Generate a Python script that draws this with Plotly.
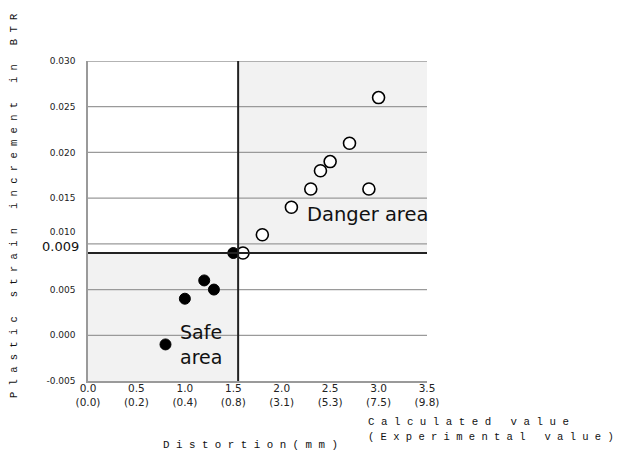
import plotly.graph_objects as go

# data
safe_x = [0.8, 1.0, 1.2, 1.3, 1.5]
safe_y = [-0.001, 0.004, 0.006, 0.005, 0.009]
danger_x = [1.6, 1.8, 2.1, 2.3, 2.4, 2.5, 2.7, 2.9, 3.0]
danger_y = [0.009, 0.011, 0.014, 0.016, 0.018, 0.019, 0.021, 0.016, 0.026]
x_ticks = [0.0, 0.5, 1.0, 1.5, 2.0, 2.5, 3.0, 3.5]
x_tick_exp = ["0.0", "0.2", "0.4", "0.8", "3.1", "5.3", "7.5", "9.8"]
y_ticks = [-0.005, 0.000, 0.005, 0.010, 0.015, 0.020, 0.025, 0.030]
threshold_x = 1.55
threshold_y = 0.009

x_ticktext = [f"{v:.1f}<br>({e})" for v, e in zip(x_ticks, x_tick_exp)]
# the 0.010 label sits a little higher so it clears the 0.009 label
y_ticktext = [f"{v:.3f}" + ("<br> <br> " if abs(v - 0.010) < 1e-9 else "") for v in y_ticks]


def spaced(*words, gap=3):
    return (" " * gap).join(" ".join(w) for w in words)


fig = go.Figure()

# shaded areas
fig.add_shape(type="rect", x0=threshold_x, x1=3.5, y0=threshold_y, y1=0.030,
              fillcolor="#f2f2f2", line_width=0, layer="below")
fig.add_shape(type="rect", x0=0, x1=threshold_x, y0=-0.005, y1=threshold_y,
              fillcolor="#f2f2f2", line_width=0, layer="below")

# gridlines
for yv in y_ticks[1:]:
    fig.add_shape(type="line", x0=0, x1=3.5, y0=yv, y1=yv,
                  line=dict(color="#9a9a9a", width=1.3), layer="below")

# threshold lines
fig.add_shape(type="line", x0=0, x1=3.5, y0=threshold_y, y1=threshold_y,
              line=dict(color="#222222", width=2))
fig.add_shape(type="line", x0=threshold_x, x1=threshold_x, y0=-0.005, y1=0.030,
              line=dict(color="#222222", width=2))

fig.add_trace(go.Scatter(x=safe_x, y=safe_y, mode="markers",
                         marker=dict(size=11, color="black", line=dict(color="black", width=1)),
                         showlegend=False))
fig.add_trace(go.Scatter(x=danger_x, y=danger_y, mode="markers",
                         marker=dict(size=12, color="white", line=dict(color="black", width=1.6)),
                         showlegend=False))

fig.update_xaxes(range=[0, 3.5], tickvals=x_ticks, ticktext=x_ticktext,
                 showgrid=False, zeroline=False, showline=True, linecolor="#9a9a9a",
                 linewidth=1.5, ticks="", ticklabelstandoff=-3,
                 tickfont=dict(family="DejaVu Sans", size=10.5, color="#222"))
fig.update_yaxes(range=[-0.005, 0.030], tickvals=y_ticks, ticktext=y_ticktext,
                 showgrid=False, zeroline=False, showline=True, linecolor="#9a9a9a",
                 linewidth=1.5, ticks="", ticklabelstandoff=9,
                 tickfont=dict(family="DejaVu Sans", size=9, color="#222"))

fig.add_annotation(x=0, y=threshold_y, xref="x", yref="y", text="0.009", showarrow=False,
                   xanchor="right", xshift=-7, yshift=7,
                   font=dict(family="DejaVu Sans", size=13, color="#111"))
fig.add_annotation(x=2.24, y=0.0132, xref="x", yref="y", text="Danger area", showarrow=False,
                   xanchor="left", font=dict(family="DejaVu Sans", size=19.5, color="#111"))
fig.add_annotation(x=0.93, y=-0.001, xref="x", yref="y", text="Safe<br>area", showarrow=False,
                   xanchor="left", align="left", font=dict(family="DejaVu Sans", size=19, color="#111"))

title_font = dict(family="Liberation Mono", size=10.8, color="#111")
fig.add_annotation(xref="paper", yref="paper", x=-0.218, y=0.547, textangle=-90,
                   xanchor="center", yanchor="middle",
                   text=spaced("Plastic", "strain", "increment", "in", "BTR"),
                   showarrow=False, font=dict(family="Liberation Mono", size=10.5, color="#111"))
fig.add_annotation(xref="paper", yref="paper", x=0.82, y=-0.128, xanchor="left", yanchor="middle",
                   text=spaced("Calculated", "value"), showarrow=False, font=title_font)
fig.add_annotation(xref="paper", yref="paper", x=0.82, y=-0.175, xanchor="left", yanchor="middle",
                   text=spaced("(Experimental", "value)"), showarrow=False,
                   font=dict(family="Liberation Mono", size=10.5, color="#111"))
fig.add_annotation(xref="paper", yref="paper", x=0.215, y=-0.20, xanchor="left", yanchor="middle",
                   text=spaced("Distortion(mm)"), showarrow=False, font=title_font)

fig.update_layout(width=614, height=446, margin=dict(l=80, r=195, t=53, b=73),
                  plot_bgcolor="white", paper_bgcolor="white")

fig.write_html("out.html")
